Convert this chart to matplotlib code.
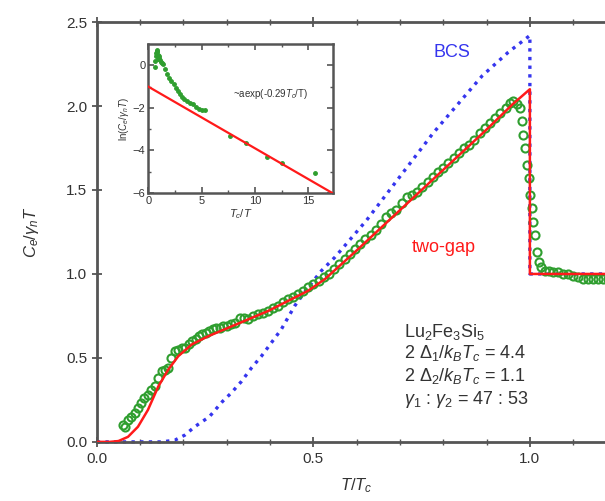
#!/usr/bin/env python3
import matplotlib
matplotlib.use("Agg")
import matplotlib.pyplot as plt

# measured specific heat, C_e / gamma_n T versus T/Tc
t_data = [0.060, 0.066, 0.072, 0.080, 0.088, 0.095, 0.103, 0.110, 0.118, 0.126,
          0.134, 0.142, 0.150, 0.157, 0.165, 0.172, 0.180, 0.188, 0.196, 0.203,
          0.212, 0.220, 0.228, 0.236, 0.244, 0.252, 0.260, 0.268, 0.276, 0.284,
          0.292, 0.300, 0.310, 0.320, 0.330, 0.340, 0.350, 0.360, 0.372, 0.384,
          0.396, 0.408, 0.419, 0.430, 0.442, 0.454, 0.465, 0.477, 0.488, 0.500,
          0.512, 0.524, 0.536, 0.548, 0.560, 0.572, 0.584, 0.596, 0.608, 0.620,
          0.632, 0.644, 0.656, 0.668, 0.680, 0.692, 0.704, 0.716, 0.728, 0.740,
          0.752, 0.764, 0.776, 0.788, 0.800, 0.812, 0.824, 0.836, 0.848, 0.860,
          0.872, 0.884, 0.896, 0.908, 0.920, 0.932, 0.944, 0.954, 0.962, 0.970,
          0.977, 0.981, 0.985, 0.989, 0.993, 0.997, 1.001, 1.005, 1.008, 1.012,
          1.016, 1.020, 1.026, 1.035, 1.045, 1.054, 1.065, 1.077, 1.088, 1.100,
          1.112, 1.123, 1.135, 1.146, 1.158, 1.169, 1.180]
c_data = [0.10, 0.09, 0.13, 0.15, 0.17, 0.20, 0.23, 0.26, 0.28, 0.31,
          0.33, 0.38, 0.42, 0.43, 0.44, 0.50, 0.54, 0.55, 0.56, 0.56,
          0.58, 0.60, 0.61, 0.63, 0.64, 0.65, 0.66, 0.67, 0.68, 0.68,
          0.69, 0.69, 0.70, 0.71, 0.74, 0.74, 0.73, 0.75, 0.76, 0.77,
          0.78, 0.80, 0.81, 0.83, 0.85, 0.86, 0.88, 0.90, 0.92, 0.94,
          0.96, 0.98, 1.00, 1.03, 1.06, 1.09, 1.12, 1.15, 1.18, 1.21,
          1.23, 1.26, 1.30, 1.34, 1.36, 1.38, 1.42, 1.46, 1.47, 1.49,
          1.52, 1.55, 1.58, 1.61, 1.63, 1.66, 1.69, 1.72, 1.75, 1.77,
          1.80, 1.84, 1.87, 1.90, 1.93, 1.96, 1.99, 2.02, 2.03, 2.01,
          1.99, 1.91, 1.83, 1.75, 1.65, 1.57, 1.47, 1.39, 1.31, 1.23,
          1.13, 1.07, 1.04, 1.02, 1.02, 1.01, 1.01, 1.00, 1.00, 0.99,
          0.98, 0.97, 0.97, 0.97, 0.97, 0.97, 0.97]

# two-gap fit
t_fit = [0.0, 0.03, 0.05, 0.072, 0.095, 0.118, 0.142, 0.165, 0.188, 0.219,
         0.258, 0.304, 0.35, 0.396, 0.442, 0.488, 0.527, 0.6, 0.7, 0.8,
         0.9, 0.96, 1.0, 1.0, 1.25]
c_fit = [0.0, 0.0, 0.005, 0.03, 0.09, 0.19, 0.33, 0.43, 0.51, 0.58,
         0.63, 0.68, 0.73, 0.78, 0.84, 0.90, 0.97, 1.14, 1.38, 1.62,
         1.86, 2.01, 2.10, 1.0, 1.0]

# single-gap BCS curve
t_bcs = [0.0, 0.15, 0.18, 0.203, 0.226, 0.26, 0.29, 0.31, 0.334, 0.357,
         0.38, 0.403, 0.426, 0.457, 0.488, 0.519, 0.55, 0.623, 0.7, 0.777,
         0.85, 0.89, 0.95, 1.0, 1.0, 1.25]
c_bcs = [0.0, 0.0, 0.01, 0.04, 0.09, 0.15, 0.24, 0.29, 0.36, 0.44,
         0.51, 0.59, 0.67, 0.81, 0.92, 1.02, 1.10, 1.32, 1.58, 1.84,
         2.06, 2.18, 2.32, 2.42, 1.0, 1.0]

# inset: ln(C_e/gamma_n T) versus Tc/T
inv_t = [0.62, 0.66, 0.70, 0.74, 0.78, 0.82, 0.86, 0.90, 0.95, 1.00,
         1.05, 1.12, 1.20, 1.30, 1.43, 1.55, 1.74, 1.95, 2.15, 2.37,
         2.6, 2.8, 2.99, 3.2, 3.4, 3.6, 3.9, 4.2, 4.5, 4.8,
         5.05, 5.3, 7.7, 9.2, 11.1, 12.5, 15.6]
ln_c = [-0.1, 0.2, 0.45, 0.6, 0.68, 0.71, 0.65, 0.5, 0.3, 0.45,
        0.35, 0.25, 0.15, 0.1, 0.05, -0.15, -0.40, -0.6, -0.75, -0.87,
        -1.05, -1.2, -1.35, -1.5, -1.6, -1.67, -1.75, -1.83, -1.95, -2.05,
        -2.08, -2.12, -3.33, -3.65, -4.29, -4.6, -5.08]
exp_intercept = -1.0
exp_slope = -0.29
inv_t_range = [0.0, 17.3]

plt.rcParams['font.family'] = ['Liberation Sans', 'DejaVu Sans']
plt.rcParams['mathtext.fontset'] = 'custom'
plt.rcParams['mathtext.rm'] = 'Liberation Sans'
plt.rcParams['mathtext.it'] = 'Liberation Sans:italic'

GREEN = '#2f9e2f'
RED = '#ff1a1a'
BLUE = '#3535ee'
GREY = '#555555'
TXT = '#333333'

fig = plt.figure(figsize=(6.05, 5.01), dpi=100)
ax = fig.add_axes([0.160, 0.118, 0.859, 0.838])

ax.plot(t_bcs, c_bcs, color=BLUE, lw=2.4, ls=(0, (1, 1.6)), clip_on=False, zorder=2)
ax.plot(t_data, c_data, 'o', mfc='none', mec=GREEN, mew=1.5, ms=5.8, zorder=3)
ax.plot(t_fit, c_fit, color=RED, lw=1.8, zorder=4)

ax.set_xlim(0, 1.2)
ax.set_ylim(0, 2.5)
ax.set_xticks([0.0, 0.5, 1.0])
ax.set_xticks([i / 10 for i in range(13)], minor=True)
ax.set_yticks([0.0, 0.5, 1.0, 1.5, 2.0, 2.5])
ax.tick_params(which='both', direction='inout', top=True, right=True,
               color=GREY, labelcolor=TXT, labelsize=11)
ax.tick_params(which='major', length=7, width=1.3)
ax.tick_params(which='minor', length=4, width=1.0)
for s in ax.spines.values():
    s.set_color(GREY)
    s.set_linewidth(2)

ax.set_xlabel('$T/T_c$', fontsize=12, color=TXT, labelpad=8)
ax.set_ylabel('$C_e/\\gamma_n T$', fontsize=12, color=TXT)
ax.yaxis.set_label_coords(-0.108, 0.5)

ax.text(0.82, 2.32, 'BCS', color=BLUE, fontsize=13, ha='center', va='center')
ax.text(0.80, 1.155, 'two-gap', color=RED, fontsize=13, ha='center', va='center')
ax.text(0.71, 0.655, 'Lu$_2$Fe$_3$Si$_5$', color=TXT, fontsize=13, va='center')
ax.text(0.71, 0.53, '2 $\\Delta_1/k_BT_c$ = 4.4', color=TXT, fontsize=13, va='center')
ax.text(0.71, 0.39, '2 $\\Delta_2/k_BT_c$ = 1.1', color=TXT, fontsize=13, va='center')
ax.text(0.71, 0.25, '$\\gamma_1$ : $\\gamma_2$ = 47 : 53', color=TXT, fontsize=13, va='center')

ins = fig.add_axes([0.245, 0.615, 0.305, 0.297])
ins.plot(inv_t, ln_c, 'o', color=GREEN, ms=2.5, zorder=2)
ins.plot(inv_t_range, [exp_intercept + exp_slope * x for x in inv_t_range],
         color=RED, lw=1.6, zorder=3)
ins.set_xlim(inv_t_range)
ins.set_ylim(-6, 1)
ins.set_xticks([0, 5, 10, 15])
ins.set_xticks([2.5, 7.5, 12.5], minor=True)
ins.set_yticks([0, -2, -4, -6])
ins.set_yticks([-1, -3, -5], minor=True)
ins.tick_params(which='both', direction='in', top=True, right=True,
                color=GREY, labelcolor=TXT, labelsize=8, pad=2)
ins.tick_params(which='major', length=4, width=1.2)
ins.tick_params(which='minor', length=2.5, width=1.0)
for s in ins.spines.values():
    s.set_color(GREY)
    s.set_linewidth(1.8)
ins.set_xlabel('$T_c/T$', fontsize=8, color=TXT, labelpad=1)
ins.set_ylabel('ln($C_e/\\gamma_n T$)', fontsize=7, color=TXT, labelpad=1)
ins.text(11.5, -1.35, '~aexp(-0.29$T_c$/T)', fontsize=7, color=TXT,
         ha='center', va='center')

fig.savefig('out.png', dpi=100)
